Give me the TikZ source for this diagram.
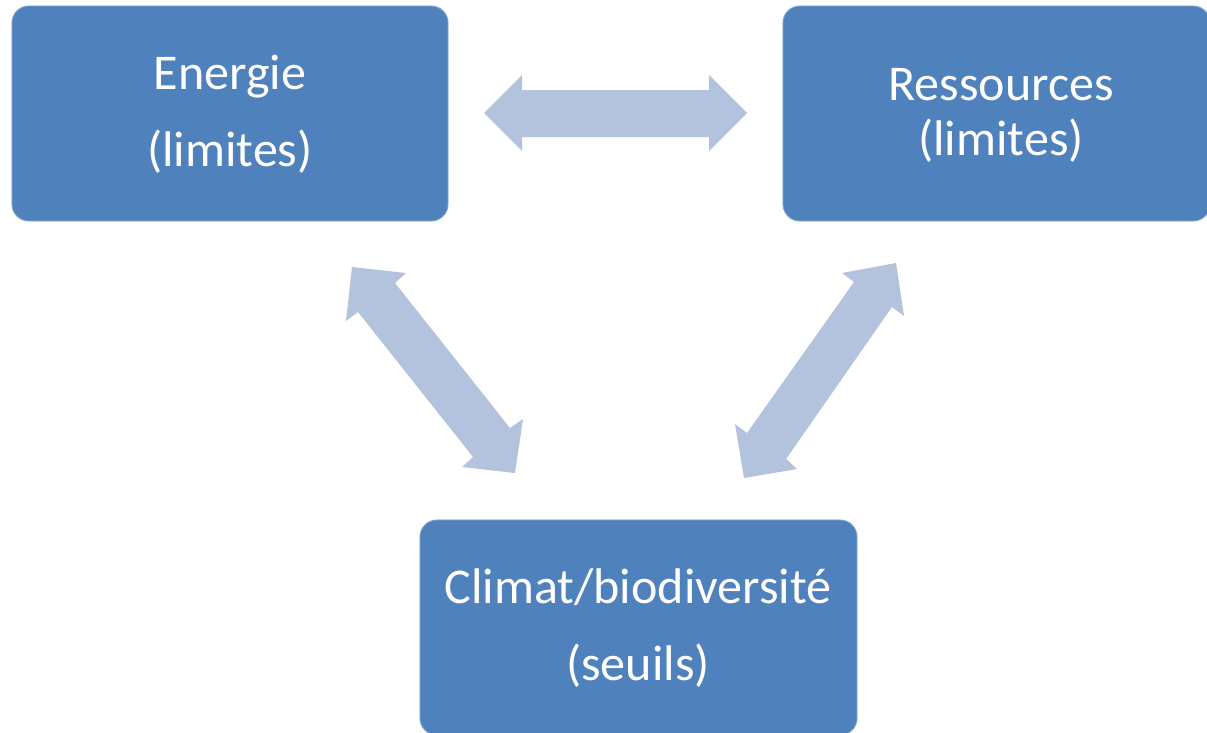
\documentclass[tikz,border=0pt]{standalone}
\usepackage{fontspec}
\setmainfont{Carlito}
\definecolor{boxblue}{HTML}{4F81BD}
\definecolor{arrowblue}{HTML}{B3C3DD}
\tikzset{
  boxnode/.style={rectangle, rounded corners=0.42cm, fill=boxblue, draw=boxblue!70!white, line width=0.6pt, inner sep=0pt},
  lbl/.style={text=white, inner sep=0pt, anchor=base, font=\fontsize{35.6pt}{42pt}\selectfont},
  blockarrow/.style={fill=arrowblue, draw=none}
}
\begin{document}
\begin{tikzpicture}[x=0.025cm, y=-0.025cm]
\path[use as bounding box] (0,0) rectangle (1207,732);
\clip (0,0) rectangle (1207,732);
\fill[white] (0,0) rectangle (1207,732);

% boxes
\node[boxnode, minimum width=10.9cm, minimum height=5.375cm] (energie) at (230,113.5) {};
\node[boxnode, minimum width=10.675cm, minimum height=5.375cm] (ress) at (996.5,113.5) {};
\node[boxnode, minimum width=10.925cm, minimum height=5.375cm] (climat) at (638.5,627.5) {};

% labels
\node[lbl] (e1) at (230,89) {Energie};
\node[lbl] (e2) at (230,166) {(limites)};
\node[lbl] (r1) at (1001,100) {Ressources};
\node[lbl] (r2) at (1001,155) {(limites)};
\node[lbl] (c1) at (638,603) {Climat/biodiversité};
\node[lbl] (c2) at (638,680) {(seuils)};

% block arrows
\fill[blockarrow] (484,113) -- (522,75) -- (522,90) -- (709,90) -- (709,75) -- (747,113)
  -- (709,151) -- (709,137) -- (522,137) -- (522,151) -- cycle;
\fill[blockarrow] (352,267) -- (406,273) -- (395,283) -- (510,428) -- (523,419) -- (515,473)
  -- (462,467) -- (473,457) -- (358,312) -- (346,321) -- cycle;
\fill[blockarrow] (896,263) -- (904,316) -- (892,307) -- (786,459) -- (797,469) -- (744,478)
  -- (735,424) -- (747,433) -- (854,282) -- (842,273) -- cycle;
\end{tikzpicture}
\end{document}
